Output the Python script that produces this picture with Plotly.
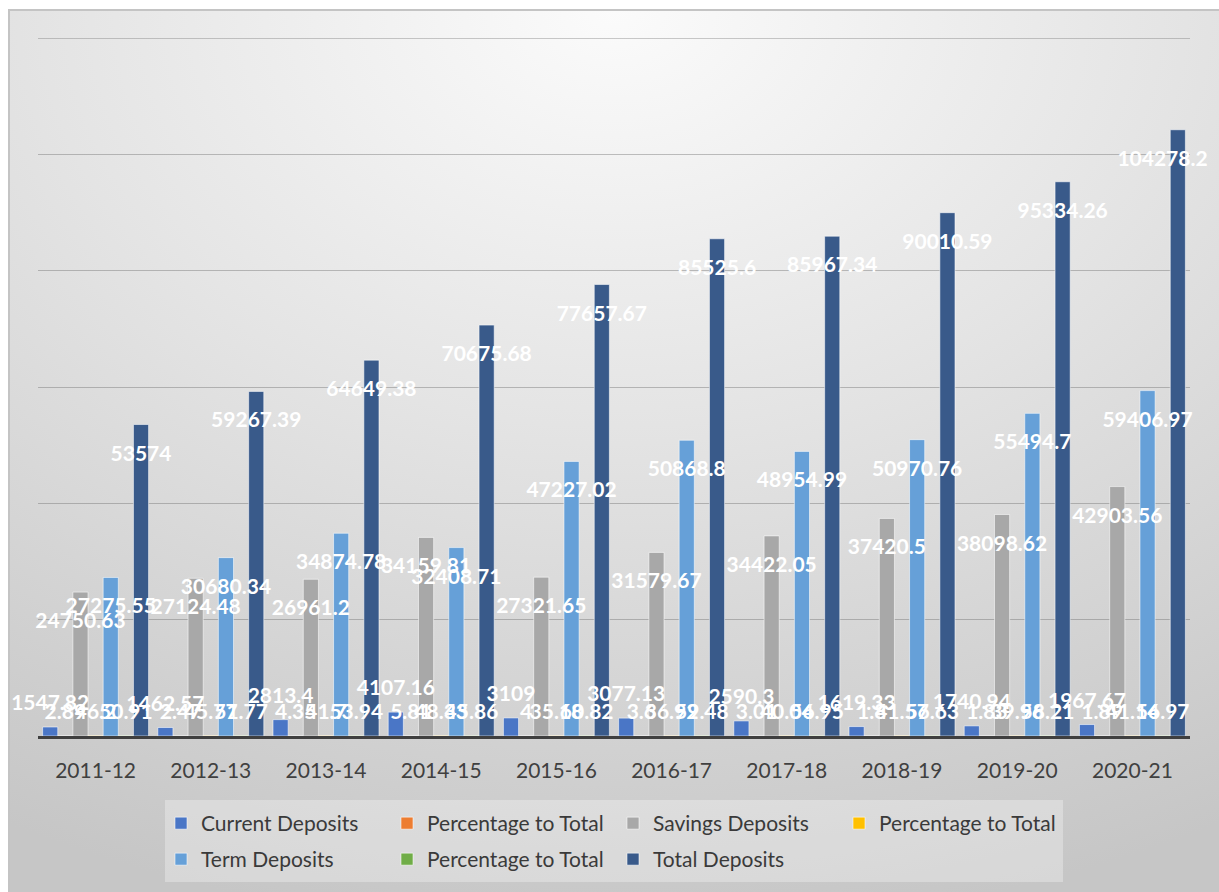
import base64
import plotly.graph_objects as go

years = ["2011-12", "2012-13", "2013-14", "2014-15", "2015-16",
         "2016-17", "2017-18", "2018-19", "2019-20", "2020-21"]
current = [1547.82, 1462.57, 2813.4, 4107.16, 3109, 3077.13, 2590.3, 1619.33, 1740.94, 1967.67]
cur_pct = [2.89, 2.47, 4.35, 5.81, 4.0, 3.6, 3.01, 1.8, 1.83, 1.89]
savings = [24750.63, 27124.48, 26961.2, 34159.81, 27321.65, 31579.67, 34422.05, 37420.5, 38098.62, 42903.56]
sav_pct = [46.2, 45.77, 41.7, 48.33, 35.18, 36.92, 40.04, 41.57, 39.96, 41.14]
term = [27275.55, 30680.34, 34874.78, 32408.71, 47227.02, 50868.8, 48954.99, 50970.76, 55494.7, 59406.97]
term_pct = [50.91, 51.77, 53.94, 45.86, 60.82, 59.48, 56.95, 56.63, 58.21, 56.97]
total = [53574, 59267.39, 64649.38, 70675.68, 77657.67, 85525.6, 85967.34, 90010.59, 95334.26, 104278.2]

series = [
    ("Current Deposits", current, "#4A76C6", "outside", "legend"),
    ("Percentage to Total", cur_pct, "#ED7D31", "outside", "legend"),
    ("Savings Deposits", savings, "#A8A8A8", "inside", "legend"),
    ("Percentage to Total", sav_pct, "#FFC000", "outside", "legend"),
    ("Term Deposits", term, "#66A0D8", "inside", "legend2"),
    ("Percentage to Total", term_pct, "#70AD47", "outside", "legend2"),
    ("Total Deposits", total, "#395A8A", "inside", "legend2"),
]


def fmt(v):
    return ("%.2f" % v).rstrip("0").rstrip(".")


W, H = 1219, 892
ML, MR, MT, MB = 38, 29, 38, 156
PW, PH = W - ML - MR, H - MT - MB
YMAX = 120060
GRID_TOP = 120000
GRID = "rgba(110,110,110,0.42)"


def px_x(p):
    return (p - ML) / PW


def px_y(p):
    return (H - MB - p) / PH


def shift_range(px):
    # axis range that moves labels `px` pixels down (negative = up)
    d = px * YMAX / PH
    return [d, YMAX + d]


fig = go.Figure()
# bars
for name, vals, color, pos, leg in series:
    fig.add_trace(go.Bar(
        name=name, x=years, y=vals, legend=leg,
        marker=dict(color=color, line=dict(color="rgba(255,255,255,0.55)", width=1)),
    ))

# labels on overlaid twin subplots (all 7 series in each so the grouping matches)
for yax, wanted in (("y2", "inside"), ("y3", "outside")):
    for i, (name, vals, color, pos, leg) in enumerate(series):
        labels = [fmt(v) for v in vals] if pos == wanted else [""] * len(vals)
        if pos == wanted and i == len(series) - 1:
            labels[-1] = labels[-1] + "\u00a0" * 6
        kw = dict(textposition=wanted, constraintext="none", textangle=0, cliponaxis=False)
        if wanted == "inside":
            kw["insidetextanchor"] = "end"
        fig.add_trace(go.Bar(
            name=name, x=years, y=vals, xaxis="x2", yaxis=yax, showlegend=False,
            text=labels, hoverinfo="skip",
            textfont=dict(family="Lato", size=21, color="white", weight="bold"),
            marker=dict(color="rgba(0,0,0,0)", line=dict(width=0)),
            **kw,
        ))

svg = (
    "<svg xmlns='http://www.w3.org/2000/svg' width='1211' height='883' viewBox='0 0 1211 883' preserveAspectRatio='none'>"
    "<defs><radialGradient id='g' cx='0.5' cy='0' r='1.05' fx='0.5' fy='0'>"
    "<stop offset='0' stop-color='#fbfbfb'/>"
    "<stop offset='0.45' stop-color='#e4e4e4'/>"
    "<stop offset='1' stop-color='#c6c6c6'/>"
    "</radialGradient></defs>"
    "<rect x='0' y='0' width='1211' height='883' fill='url(#g)'/>"
    "<line x1='1' y1='0' x2='1' y2='883' stroke='#c4c4c4' stroke-width='2'/>"
    "<line x1='0' y1='1' x2='1211' y2='1' stroke='#c4c4c4' stroke-width='2'/>"
    "</svg>"
)
src = "data:image/svg+xml;base64," + base64.b64encode(svg.encode()).decode()

fig.add_layout_image(dict(
    source=src, xref="paper", yref="paper",
    x=px_x(8), y=px_y(9), sizex=(W - 8) / PW, sizey=(H - 9) / PH,
    xanchor="left", yanchor="top", sizing="stretch", layer="below",
))

# top gridline (plotly omits the one on the plot edge)
fig.add_shape(type="line", xref="paper", yref="y", x0=0, x1=1, y0=GRID_TOP, y1=GRID_TOP,
              line=dict(color=GRID, width=1), layer="below")

# legend box
fig.add_shape(type="rect", xref="paper", yref="paper",
              x0=px_x(165), x1=px_x(1063), y0=px_y(800), y1=px_y(882),
              fillcolor="rgba(255,255,255,0.3)", line=dict(width=0), layer="above")

leg_common = dict(
    orientation="h", xanchor="left", yanchor="top",
    font=dict(family="Lato", size=21, color="#3a3a3a"),
    bgcolor="rgba(0,0,0,0)", traceorder="normal",
    entrywidth=181, entrywidthmode="pixels",
)

fig.update_layout(
    width=W, height=H,
    margin=dict(l=ML, r=MR, t=MT, b=MB, autoexpand=False),
    paper_bgcolor="white", plot_bgcolor="rgba(0,0,0,0)",
    barmode="group", bargap=0.08, bargroupgap=0,
    font=dict(family="Lato", color="#404040"),
    showlegend=True,
    legend=dict(x=px_x(161), y=px_y(803), **leg_common),
    legend2=dict(x=px_x(161), y=px_y(839), **leg_common),
    xaxis=dict(
        type="category",
        showline=True, linecolor="#3f3f3f", linewidth=3,
        ticks="outside", ticklen=14, tickcolor="rgba(0,0,0,0)",
        tickfont=dict(family="Lato", size=21, color="#404040"),
        showgrid=False,
    ),
    yaxis=dict(
        range=[0, YMAX], tick0=0, dtick=20000, showticklabels=False,
        showgrid=True, gridcolor=GRID, gridwidth=1,
        zeroline=False, showline=False,
    ),
    xaxis2=dict(type="category", overlaying="x", matches="x", visible=False),
    yaxis2=dict(overlaying="y", range=shift_range(12), visible=False),
    yaxis3=dict(overlaying="y", range=shift_range(-10), visible=False),
)

fig.write_html("out.html")
